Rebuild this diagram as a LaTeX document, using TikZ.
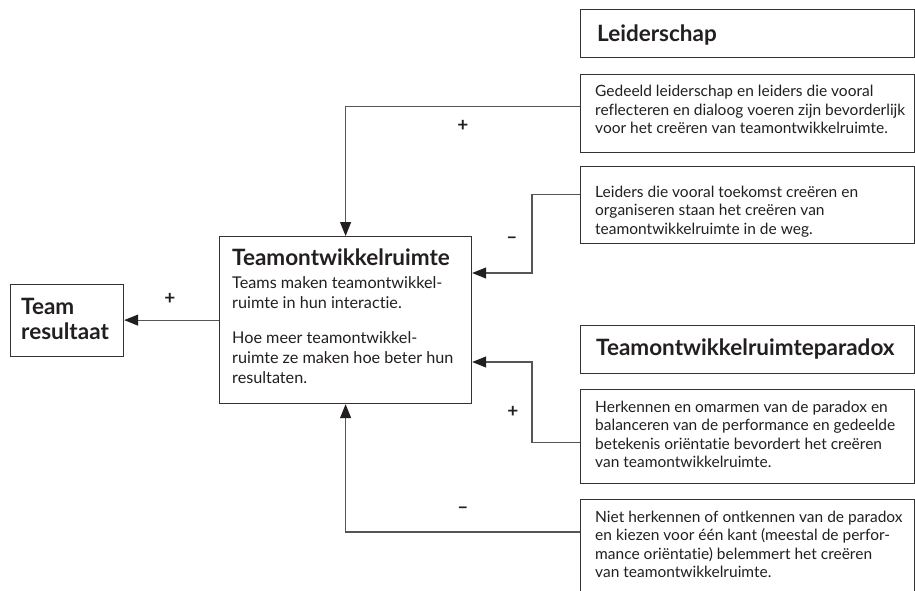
\documentclass[tikz,border=0pt]{standalone}
\usepackage{fontspec}
\setmainfont{Lato}[Ligatures={NoCommon,NoContextual}]
\usetikzlibrary{arrows.meta}
\definecolor{txt}{HTML}{231F20}
\definecolor{boxc}{HTML}{333333}
\definecolor{linec}{HTML}{555555}
\begin{document}
\begin{tikzpicture}[x=1pt,y=-1pt,
  box/.style={draw=boxc,line width=1.2pt,anchor=north west,inner sep=0pt},
  conn/.style={draw=linec,line width=1.1pt},
  arr/.style={conn,-{Triangle[length=14pt,width=11pt,color=txt]}},
  title/.style={anchor=base west,inner sep=0pt,font=\fontsize{22.5}{25}\selectfont\bfseries,text=txt},
  body/.style={anchor=base west,inner sep=0pt,align=left,font=\fontsize{15.5}{18.5}\selectfont,text=txt},
  cbody/.style={anchor=base west,inner sep=0pt,align=left,font=\fontsize{16.2}{20}\selectfont,text=txt},
  sign/.style={inner sep=0pt,font=\fontsize{19}{19}\selectfont\bfseries,text=txt}]
\useasboundingbox (0,0) rectangle (915,591);
\clip (0,0) rectangle (915,591);
\fill[white] (0,0) rectangle (915,591);

% boxes
\node[box,minimum width=334pt,minimum height=48pt] (lead) at (580,9) {};
\node[box,minimum width=334pt,minimum height=78pt] (ged) at (580,74) {};
\node[box,minimum width=334pt,minimum height=77pt] (leid) at (580,166) {};
\node[box,minimum width=334pt,minimum height=48pt] (para) at (580,325) {};
\node[box,minimum width=334pt,minimum height=94pt] (herk) at (580,389) {};
\node[box,minimum width=334pt,minimum height=110pt] (niet) at (580,499) {};
\node[box,minimum width=252pt,minimum height=167pt] (cent) at (219,236) {};
\node[box,minimum width=113pt,minimum height=72pt] (team) at (10,284) {};

% texts (base west = baseline of the last line)
\node[title] (tlead) at (597,42) {Leiderschap};
\node[body] (tged) at (595,134) {Gedeeld leiderschap en leiders die vooral\\reflecteren en dialoog voeren zijn bevorderlijk\\voor het creëren van teamontwikkelruimte.};
\node[body] (tleid) at (595,234) {Leiders die vooral toekomst creëren en\\organiseren staan het creëren van\\teamontwikkelruimte in de weg.};
\node[title] (tpara) at (596,355) {Teamontwikkelruimteparadox};
\node[body] (therk) at (595,467.5) {Herkennen en omarmen van de paradox en\\balanceren van de performance en gedeelde\\betekenis oriëntatie bevordert het creëren\\van teamontwikkelruimte.};
\node[body] (tniet) at (595,577.5) {Niet herkennen of ontkennen van de paradox\\en kiezen voor één kant (meestal de perfor-\\mance oriëntatie) belemmert het creëren\\van teamontwikkelruimte.};
\node[title] (tcent) at (232,265) {Teamontwikkelruimte};
\node[cbody] (tc1) at (232,308) {Teams maken teamontwikkel-\\ruimte in hun interactie.};
\node[cbody] (tc2) at (232,383) {Hoe meer teamontwikkel-\\ruimte ze maken hoe beter hun\\resultaten.};
\node[title,align=left] (tteam) at (21,339) {Team\\resultaat};

% connectors
\draw[arr] ([yshift=7pt]ged.west) -| (cent.north);
\draw[arr] ([yshift=10.5pt]leid.west) -| (532,273) -- (cent.east |- 0,273);
\draw[arr] ([yshift=-6pt]herk.west) -| (532,362) -- (cent.east |- 0,362);
\draw[arr] ([yshift=-33pt]niet.north west) -| (cent.south);
\draw[arr] (cent.west) -- (team.east |- cent.west);

% signs
\node[sign] (s1) at (463,126) {+};
\node[sign] (s2) at (512,240) {–};
\node[sign] (s3) at (513,412) {+};
\node[sign] (s4) at (463,510) {–};
\node[sign] (s5) at (170,299) {+};
\end{tikzpicture}
\end{document}
